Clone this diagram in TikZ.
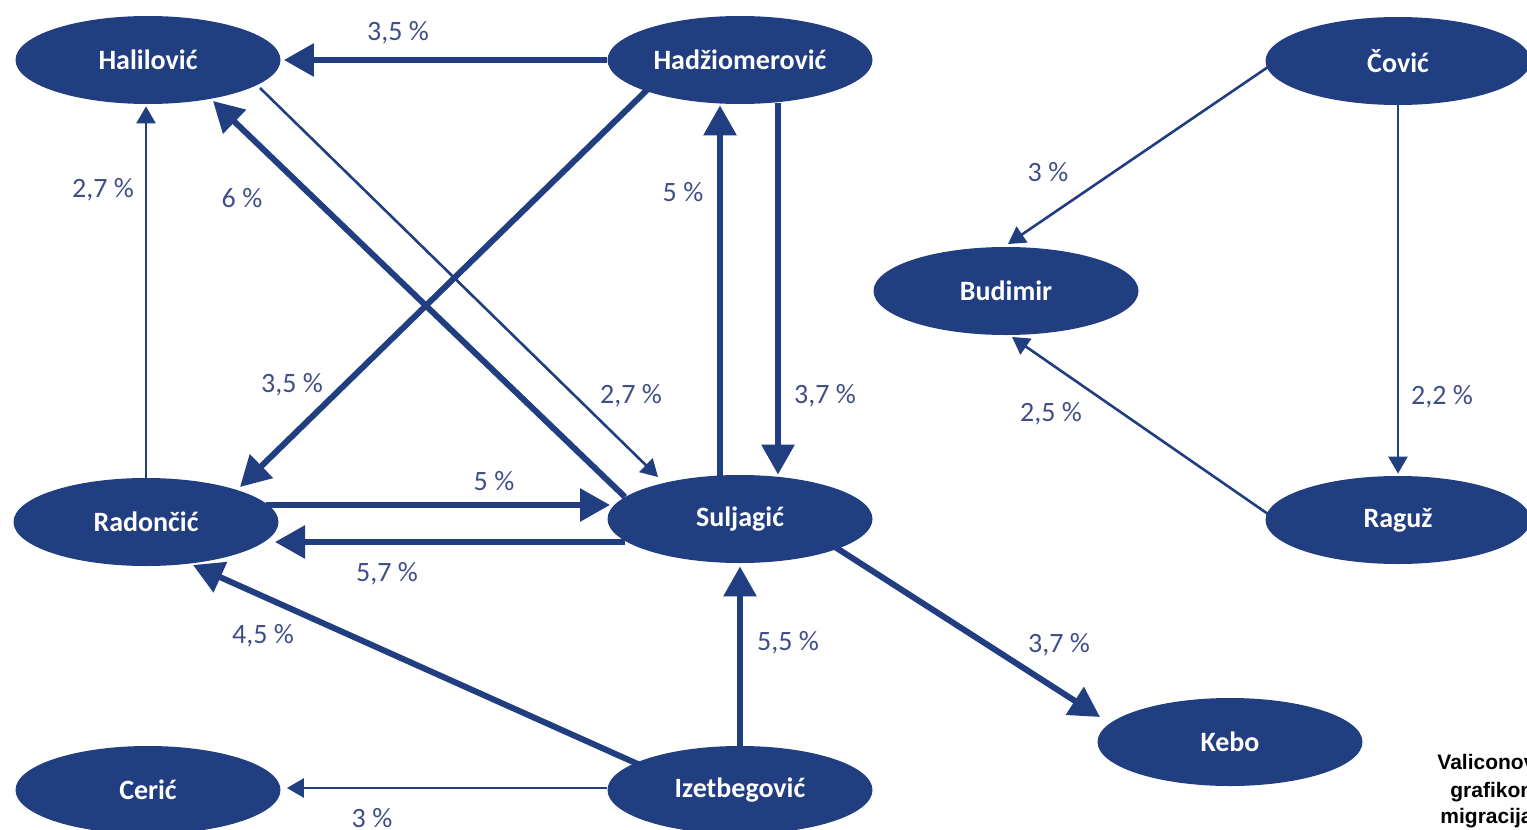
\documentclass[tikz,border=0pt]{standalone}
\usepackage{fontspec}
\setmainfont{Carlito}
\newfontfamily\notefont{Liberation Sans}
\usetikzlibrary{shapes.geometric,arrows.meta,calc}
\definecolor{nodeblue}{RGB}{32,62,128}
\definecolor{labelblue}{RGB}{64,78,135}
\tikzset{
  person/.style={ellipse, fill=nodeblue, text=white,
    font=\fontsize{14}{16}\selectfont\bfseries,
    minimum width=132.5pt, minimum height=44pt, inner sep=0pt},
  pct/.style={text=labelblue, font=\fontsize{14}{16}\selectfont, inner sep=0pt},
  thickarrow/.style={draw=nodeblue, line width=3pt, -{Triangle[length=15pt,width=16pt]}},
  thinarrow/.style={draw=nodeblue, line width=1.3pt, -{Triangle[length=8.5pt,width=9.5pt]}},
  note/.style={font=\notefont\bfseries\fontsize{10.5}{12}\selectfont, text=black, inner sep=0pt, anchor=base west}
}
\begin{document}
\begin{tikzpicture}[x=0.5pt,y=-0.5pt]
\useasboundingbox (0,0) rectangle (1527,830);
\clip (0,0) rectangle (1527,830);

% people
\node[person] (hal)  at (148,60)  {Halilović};
\node[person] (had)  at (740,60)  {Hadžiomerović};
\node[person] (cov)  at (1398,61) {Čović};
\node[person] (bud)  at (1006,291) {Budimir};
\node[person] (rad)  at (146,522) {Radončić};
\node[person] (sul)  at (740,519) {Suljagić};
\node[person] (rag)  at (1398,520) {Raguž};
\node[person] (keb)  at (1230,742) {Kebo};
\node[person] (cer)  at (148,790) {Cerić};
\node[person] (izet) at (740,790) {Izetbegović};

% connectors
\draw[thickarrow] (had.west) -- ($(hal.east)+(3,0)$);
\draw[thinarrow]  (rad.north) -- ($(rad.north |- hal.south)+(0,2)$);
\draw[thickarrow] ($(sul)+(-115,-22)$) -- ($(hal)+(65,41)$);
\draw[thinarrow]  ($(hal)+(112,28)$) -- ($(sul)+(-82,-42)$);
\draw[thickarrow] ($(had)+(-93,30)$) -- ($(rad)+(94,-35)$);
\draw[thickarrow] ($(sul.north)+(-20,2)$) -- ($(had.south)+(-20,1)$);
\draw[thickarrow] ($(had.south)+(38,-1)$) -- ($(sul.north)+(38,0)$);
\draw[thickarrow] ($(rad)+(120,-17)$) -- ($(sul)+(-130,-14)$);
\draw[thickarrow] ($(sul)+(-115,23)$) -- ($(rad)+(129,20)$);
\draw[thickarrow] ($(izet)+(-100,-25)$) -- ($(rad)+(47,43)$);
\draw[thickarrow] (izet.north) -- ($(sul.south)+(0,3)$);
\draw[thickarrow] ($(sul)+(95,28)$) -- ($(keb)+(-130,-25)$);
\draw[thinarrow]  ($(izet.west)+(0,-2)$) -- ($(cer.east)+(6,-2)$);
\draw[thinarrow]  ($(cov)+(-130,6)$) -- ($(bud)+(2,-47)$);
\draw[thinarrow]  (cov.south) -- ($(rag.north)+(0,-2)$);
\draw[thinarrow]  ($(rag)+(-130,-6)$) -- ($(bud)+(6,46)$);

% percentages
\node[pct] (l1)  at (398,33)  {3,5 \%};
\node[pct] (l2)  at (103,190) {2,7 \%};
\node[pct] (l3)  at (242,198) {6 \%};
\node[pct] (l4)  at (683,192) {5 \%};
\node[pct] (l5)  at (1048,172) {3 \%};
\node[pct] (l6)  at (292,385) {3,5 \%};
\node[pct] (l7)  at (631,396) {2,7 \%};
\node[pct] (l8)  at (825,396) {3,7 \%};
\node[pct] (l9)  at (1051,414) {2,5 \%};
\node[pct] (l10) at (1442,397) {2,2 \%};
\node[pct] (l11) at (494,481) {5 \%};
\node[pct] (l12) at (387,574) {5,7 \%};
\node[pct] (l13) at (263,636) {4,5 \%};
\node[pct] (l14) at (788,643) {5,5 \%};
\node[pct] (l15) at (1059,645) {3,7 \%};
\node[pct] (l16) at (372,818) {3 \%};

% side note (cut off by the page edge)
\node[note] (n1) at (1437,769) {Valiconovim};
\node[note] (n2) at (1450,797) {grafikonom};
\node[note] (n3) at (1440,823) {migracija};
\end{tikzpicture}
\end{document}
